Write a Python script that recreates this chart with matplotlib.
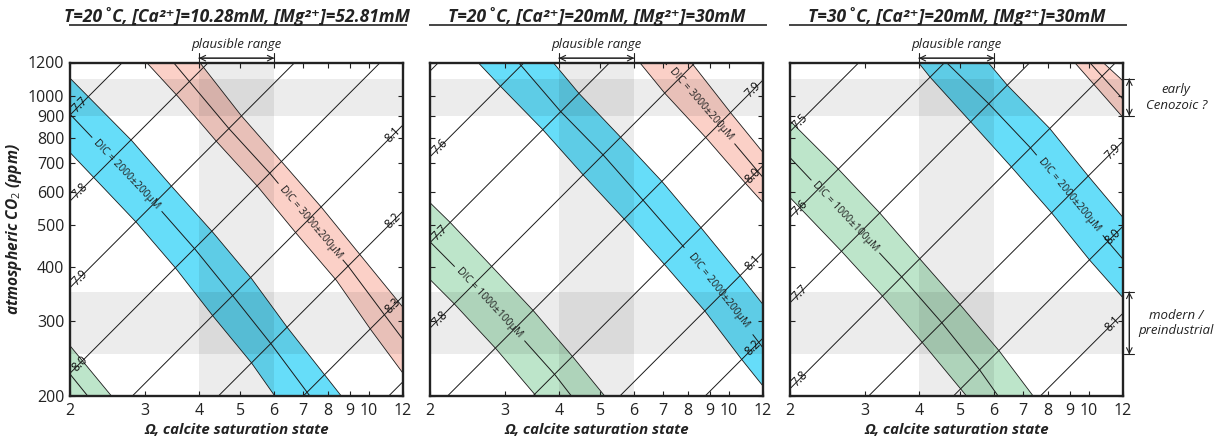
import numpy as np
import matplotlib
matplotlib.use("Agg")
import matplotlib.pyplot as plt
from matplotlib.ticker import FixedLocator, NullLocator

plt.rcParams['font.family'] = ['Open Sans', 'DejaVu Sans']
plt.rcParams['mathtext.fontset'] = 'custom'
plt.rcParams['mathtext.rm'] = 'Open Sans'
plt.rcParams['mathtext.it'] = 'Open Sans:italic'
plt.rcParams['mathtext.bf'] = 'Open Sans:bold'

# ---- data ----
titles = ["T=20˚C, [Ca²⁺]=10.28mM, [Mg²⁺]=52.81mM",
          "T=20˚C, [Ca²⁺]=20mM, [Mg²⁺]=30mM",
          "T=30˚C, [Ca²⁺]=20mM, [Mg²⁺]=30mM"]

x_ticks = [2, 3, 4, 5, 6, 7, 8, 9, 10, 12]
y_ticks = [200, 300, 400, 500, 600, 700, 800, 900, 1000, 1200]

plausible_omega = [4, 6]
modern_co2 = [250, 350]
cenozoic_co2 = [900, 1100]

# pH isolines: pH value and pCO2 (ppm) where the line meets omega = 2
p1_ph = [7.7, 7.8, 7.9, 8.0, 8.1, 8.2, 8.3, 8.4]
p1_ph_co2 = [905, 570, 358, 226, 143, 90, 57, 36]
p2_ph = [7.5, 7.6, 7.7, 7.8, 7.9, 8.0, 8.1, 8.2, 8.3]
p2_ph_co2 = [1146, 723, 456, 288, 182, 115, 72, 45.5, 28.7]
p3_ph = [7.5, 7.6, 7.7, 7.8, 7.9, 8.0, 8.1, 8.2]
p3_ph_co2 = [828, 522, 330, 208, 131, 83, 52, 33]

# DIC bands, (omega, pCO2) points on lower edge / centre / upper edge
p1_green_lo = [(2.00, 194), (2.16, 175)]
p1_green_mid = [(2.00, 225), (2.20, 200)]
p1_green_hi = [(2.00, 262), (2.50, 200)]
p1_blue_lo = [(2.00, 740), (2.86, 508), (3.52, 399), (4.32, 307), (5.31, 239), (6.02, 200)]
p1_blue_mid = [(2.00, 909), (3.16, 562), (3.92, 440), (4.81, 342), (5.91, 264), (7.27, 200)]
p1_blue_hi = [(2.00, 1103), (2.79, 788), (3.45, 618), (4.32, 481), (5.31, 376), (6.44, 289), (8.61, 200)]
p1_red_lo = [(3.02, 1200), (3.58, 998), (4.40, 785), (5.50, 615), (6.76, 479), (8.39, 372), (10.08, 286), (12.0, 226)]
p1_red_mid = [(3.49, 1200), (4.70, 842), (5.86, 662), (7.23, 515), (8.93, 402), (10.87, 309), (12.0, 271)]
p1_red_hi = [(4.02, 1200), (5.03, 901), (6.24, 705), (7.74, 551), (9.51, 428), (12.0, 322)]

p2_green_lo = [(2.00, 374), (2.28, 328), (2.85, 258), (3.54, 200)]
p2_green_mid = [(2.00, 458), (2.52, 363), (3.15, 286), (3.92, 224), (4.28, 200)]
p2_green_hi = [(2.00, 565), (2.23, 508), (2.79, 401), (3.49, 316), (4.31, 247), (5.12, 200)]
p2_blue_lo = [(2.59, 1200), (2.93, 1053), (3.66, 839), (4.56, 656), (5.70, 516), (7.07, 405), (8.77, 316), (10.68, 244), (12.0, 211)]
p2_blue_mid = [(3.22, 1200), (4.04, 922), (5.08, 730), (6.30, 572), (7.81, 447), (9.59, 347), (12.0, 259)]
p2_blue_hi = [(3.88, 1200), (4.46, 1016), (5.58, 803), (6.97, 633), (8.61, 493), (10.59, 383), (12.0, 327)]
p2_red_lo = [(6.18, 1200), (7.07, 1018), (8.85, 799), (10.97, 624), (12.0, 565)]
p2_red_mid = [(7.07, 1200), (9.46, 858), (12.0, 647)]
p2_red_hi = [(8.16, 1200), (10.12, 912), (12.0, 740)]

p3_green_lo = [(2.00, 581), (2.64, 435), (3.29, 342), (4.07, 267), (5.17, 200)]
p3_green_mid = [(2.00, 720), (2.92, 482), (3.65, 379), (4.52, 297), (5.55, 230), (6.13, 200)]
p3_green_hi = [(2.00, 877), (2.59, 678), (3.24, 535), (4.02, 418), (4.99, 327), (6.16, 255), (7.40, 200)]
p3_blue_lo = [(3.99, 1200), (4.25, 1109), (5.29, 872), (6.58, 685), (8.16, 536), (10.03, 415), (12.0, 339)]
p3_blue_mid = [(4.64, 1200), (5.83, 961), (7.29, 759), (9.01, 591), (11.07, 458), (12.0, 417)]
p3_blue_hi = [(5.81, 1200), (6.44, 1062), (8.09, 842), (9.94, 653), (12.0, 522)]
p3_red_lo = [(9.25, 1200), (12.0, 893)]
p3_red_mid = [(10.03, 1200), (12.0, 985)]
p3_red_hi = [(10.78, 1200), (12.0, 1087)]

GREEN = '#bde5ca'
BLUE = '#66ddf9'
RED = '#fbd0c7'

# label text and omega span it covers on the centre line (None = no label)
panels = [
    dict(ph=p1_ph, ph_co2=p1_ph_co2, bands=[
        (p1_green_lo, p1_green_mid, p1_green_hi, GREEN, None, None),
        (p1_blue_lo, p1_blue_mid, p1_blue_hi, BLUE, "DIC = 2000±200μM", (2.25, 3.28)),
        (p1_red_lo, p1_red_mid, p1_red_hi, RED, "DIC = 3000±200μM", (6.13, 8.69))]),
    dict(ph=p2_ph, ph_co2=p2_ph_co2, bands=[
        (p2_green_lo, p2_green_mid, p2_green_hi, GREEN, "DIC = 1000±100μM", (2.28, 3.33)),
        (p2_blue_lo, p2_blue_mid, p2_blue_hi, BLUE, "DIC = 2000±200μM", (7.85, 11.37)),
        (p2_red_lo, p2_red_mid, p2_red_hi, RED, "DIC = 3000±200μM", (7.14, 10.31))]),
    dict(ph=p3_ph, ph_co2=p3_ph_co2, bands=[
        (p3_green_lo, p3_green_mid, p3_green_hi, GREEN, "DIC = 1000±100μM", (2.24, 3.24)),
        (p3_blue_lo, p3_blue_mid, p3_blue_hi, BLUE, "DIC = 2000±200μM", (7.53, 10.78)),
        (p3_red_lo, p3_red_mid, p3_red_hi, RED, None, None)]),
]


def curve_at(pts, om):
    lx = np.log10([p[0] for p in pts])
    ly = np.log10([p[1] for p in pts])
    return 10 ** np.interp(np.log10(om), lx, ly)


W, H = 1219, 442
fig = plt.figure(figsize=(W / 100, H / 100), dpi=100)
lefts = [70, 430, 790]
LINE = '#1a1a1a'

for i, pan in enumerate(panels):
    ax = fig.add_axes([lefts[i] / W, 46 / H, 333 / W, 333.5 / H])
    ax.set_xscale('log')
    ax.set_yscale('log')
    ax.set_xlim(2, 12)
    ax.set_ylim(200, 1200)

    # DIC bands
    for lo, mid, hi, col, lab, gap in pan['bands']:
        poly = lo + hi[::-1]
        ax.fill([p[0] for p in poly], [p[1] for p in poly], color=col, lw=0, zorder=1)
        for edge in (lo, hi):
            ax.plot([p[0] for p in edge], [p[1] for p in edge], color=LINE, lw=0.6, zorder=3)
        if gap is None:
            ax.plot([p[0] for p in mid], [p[1] for p in mid], color=LINE, lw=0.7, zorder=3)
            continue
        a, b = gap
        left = [p for p in mid if p[0] < a] + [(a, curve_at(mid, a))]
        right = [(b, curve_at(mid, b))] + [p for p in mid if p[0] > b]
        for seg in (left, right):
            if len(seg) > 1:
                ax.plot([p[0] for p in seg], [p[1] for p in seg], color=LINE, lw=0.7, zorder=3)
        c = np.sqrt(a * b)
        p0 = ax.transData.transform((c / 1.05, curve_at(mid, c / 1.05)))
        p1 = ax.transData.transform((c * 1.05, curve_at(mid, c * 1.05)))
        ang = np.degrees(np.arctan2(p1[1] - p0[1], p1[0] - p0[0]))
        ax.text(c, curve_at(mid, c), lab, rotation=ang, rotation_mode='anchor',
                ha='center', va='center', fontsize=7.5, color='#222', zorder=5)

    # reference ranges
    ax.axvspan(*plausible_omega, color='k', alpha=0.075, lw=0, zorder=2)
    ax.axhspan(*modern_co2, color='k', alpha=0.075, lw=0, zorder=2)
    ax.axhspan(*cenozoic_co2, color='k', alpha=0.075, lw=0, zorder=2)

    # pH isolines
    for ph, c2 in zip(pan['ph'], pan['ph_co2']):
        ax.plot([2, 12], [c2, c2 * 6], color=LINE, lw=0.7, zorder=3)
        if 215 < c2 * 1.055 < 1130:
            om = 2 * 1.055
        elif 215 < c2 * 5.69 < 1130:
            om = 12 / 1.055
        else:
            continue
        ax.text(om, c2 * om / 2, f"{ph:.1f}", rotation=45, rotation_mode='anchor',
                ha='center', va='center', fontsize=8.5, color='#111', zorder=5)

    ax.xaxis.set_major_locator(FixedLocator(x_ticks))
    ax.xaxis.set_minor_locator(NullLocator())
    ax.set_xticklabels([str(t) for t in x_ticks])
    ax.yaxis.set_major_locator(FixedLocator(y_ticks))
    ax.yaxis.set_minor_locator(NullLocator())
    ax.set_yticklabels([str(t) for t in y_ticks])
    ax.tick_params(direction='in', top=True, right=True, length=3.5, width=0.8,
                   labelsize=11.5, pad=4, colors='#222')
    ax.tick_params(axis='x', pad=5)
    if i > 0:
        ax.tick_params(labelleft=False)
    for s in ax.spines.values():
        s.set_linewidth(1.7)
        s.set_color('#222')
        s.set_zorder(6)

    ax.text(0.5, -0.102, "Ω, calcite saturation state", transform=ax.transAxes,
            ha='center', va='center', fontsize=10.8, style='italic', weight='bold', color='#222')
    ax.text(0.5, 1.139, titles[i], transform=ax.transAxes, ha='center', va='center',
            fontsize=12.5, style='italic', weight='bold', color='#222')
    ax.plot([0, 1.01], [1.111, 1.111], transform=ax.transAxes, clip_on=False,
            color='#444', lw=1.4)

    # plausible range arrow
    xt = ax.get_xaxis_transform()
    ax.text(np.sqrt(plausible_omega[0] * plausible_omega[1]), 1.055, "plausible range",
            transform=xt, ha='center', va='center', fontsize=9.5, style='italic', color='#222')
    ax.annotate('', xy=(plausible_omega[0], 1.013), xytext=(plausible_omega[1], 1.013),
                xycoords=xt, textcoords=xt, annotation_clip=False,
                arrowprops=dict(arrowstyle='<->', lw=0.8, color='#222', shrinkA=0, shrinkB=0))
    ax.annotate('', xy=(plausible_omega[0], 1.013), xytext=(plausible_omega[1], 1.013),
                xycoords=xt, textcoords=xt, annotation_clip=False,
                arrowprops=dict(arrowstyle='|-|,widthA=0.35,widthB=0.35', lw=0.8,
                                color='#222', shrinkA=0, shrinkB=0))

    if i == 2:
        yt = ax.get_yaxis_transform()
        for rng, txt in ((cenozoic_co2, "early\nCenozoic ?"), (modern_co2, "modern /\npreindustrial")):
            for st in ('<->', '|-|,widthA=0.35,widthB=0.35'):
                ax.annotate('', xy=(1.019, rng[0]), xytext=(1.019, rng[1]),
                            xycoords=yt, textcoords=yt, annotation_clip=False,
                            arrowprops=dict(arrowstyle=st, lw=0.8, color='#222',
                                            shrinkA=0, shrinkB=0))
            ax.text(1.16, np.sqrt(rng[0] * rng[1]), txt, transform=yt, ha='center',
                    va='center', fontsize=9.5, style='italic', color='#222', linespacing=1.25)

fig.text(14 / W, 1 - 229 / H, "atmospheric CO$_2$ (ppm)", rotation=90, ha='center',
         va='center', fontsize=11.2, style='italic', weight='bold', color='#222')

fig.savefig("out.png", dpi=100)
